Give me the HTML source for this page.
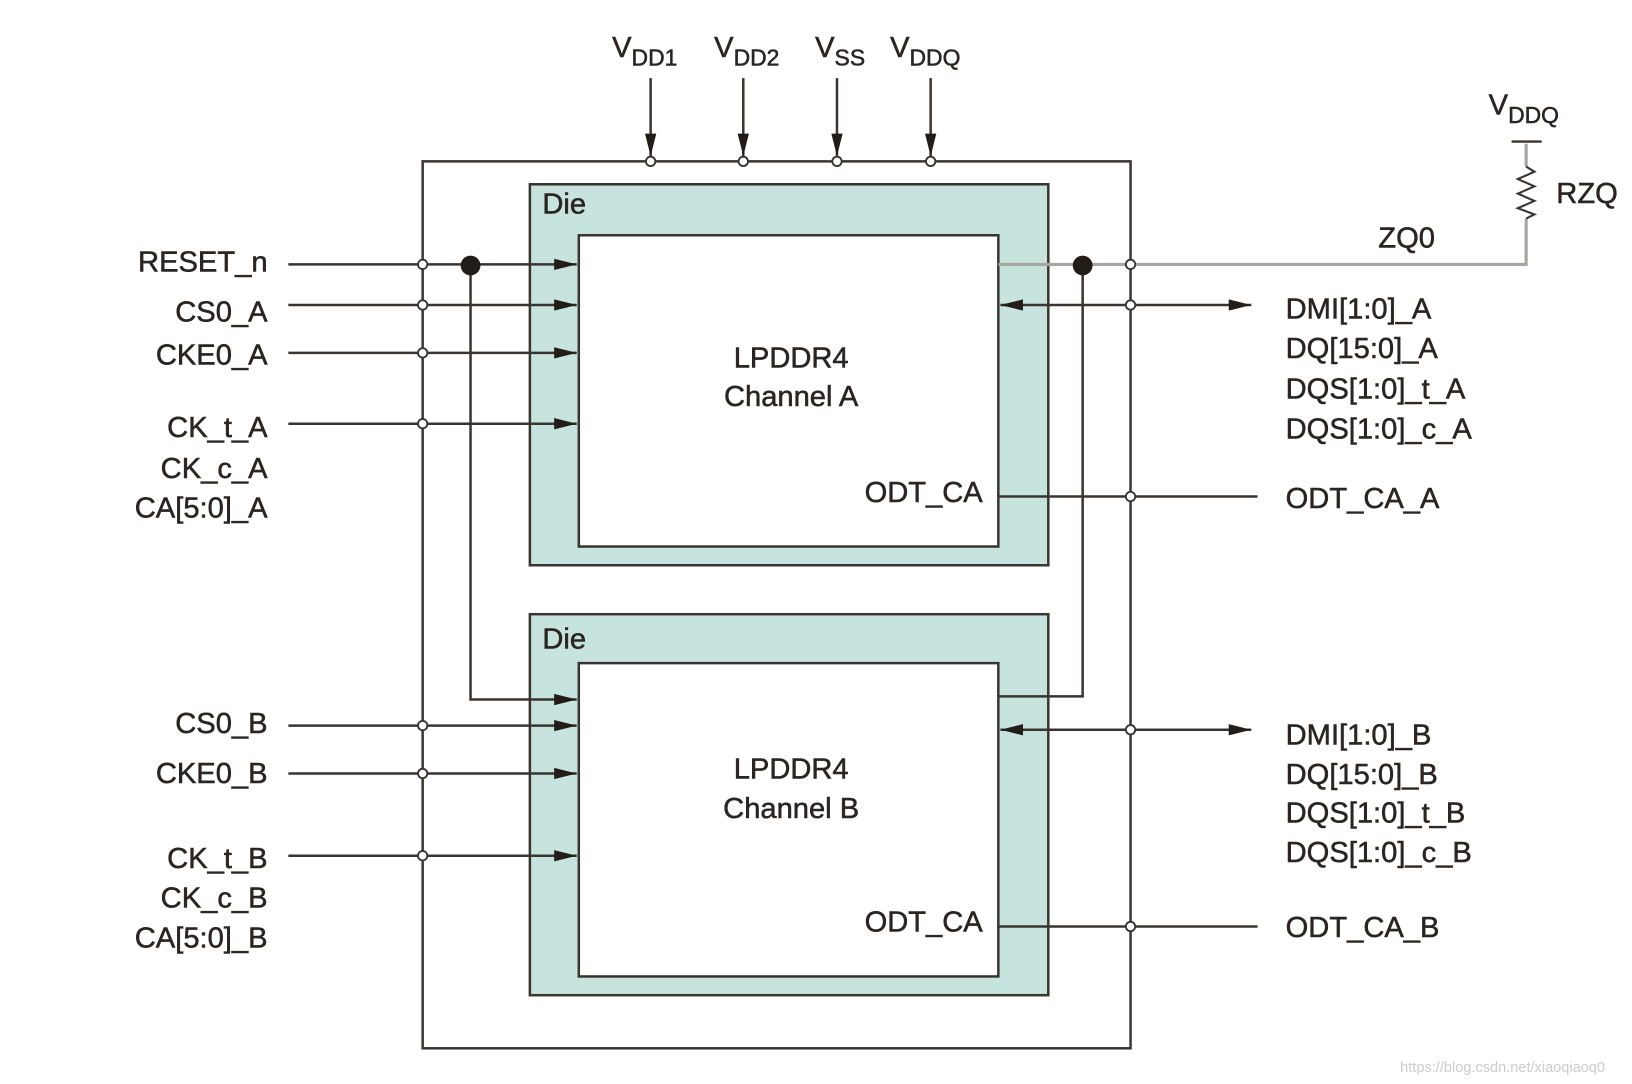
<!DOCTYPE html>
<html><head><meta charset="utf-8"><style>
html,body{margin:0;padding:0;background:#fff;}
svg{display:block;}
text{font-family:"Liberation Sans",sans-serif;fill:#2a2522;stroke:#2a2522;stroke-width:0.5;}
</style></head><body>
<svg width="1632" height="1084" viewBox="0 0 1567.7 1041.3" preserveAspectRatio="none" xmlns="http://www.w3.org/2000/svg">
<defs>
<marker id="b" viewBox="0 0 20 12" refX="20" refY="6" markerWidth="22" markerHeight="13" markerUnits="userSpaceOnUse" orient="auto-start-reverse"><path d="M0,1 L20,6 L0,11 z" fill="#231d19"/></marker>
</defs>
<g stroke="#3a3430" stroke-width="2.4" fill="none">
<rect x="406" y="155" width="680" height="852"/>
<rect x="509" y="177" width="498" height="366" fill="#c6e3dd"/>
<rect x="556" y="226" width="403" height="299" fill="#fff"/>
<rect x="509" y="590" width="498" height="366" fill="#c6e3dd"/>
<rect x="556" y="637" width="403" height="301" fill="#fff"/>
<line x1="625" y1="75" x2="625" y2="150" marker-end="url(#b)"/>
<line x1="714" y1="75" x2="714" y2="150" marker-end="url(#b)"/>
<line x1="804" y1="75" x2="804" y2="150" marker-end="url(#b)"/>
<line x1="894" y1="75" x2="894" y2="150" marker-end="url(#b)"/>
<line x1="277" y1="254" x2="554" y2="254" marker-end="url(#b)"/>
<line x1="277" y1="293" x2="554" y2="293" marker-end="url(#b)"/>
<line x1="277" y1="339" x2="554" y2="339" marker-end="url(#b)"/>
<line x1="277" y1="407" x2="554" y2="407" marker-end="url(#b)"/>
<polyline points="452,254 452,672 554,672" marker-end="url(#b)"/>
<line x1="277" y1="697" x2="554" y2="697" marker-end="url(#b)"/>
<line x1="277" y1="743" x2="554" y2="743" marker-end="url(#b)"/>
<line x1="277" y1="822" x2="554" y2="822" marker-end="url(#b)"/>
<polyline points="1040,254 1040,669 959,669"/>
<line x1="961" y1="293" x2="1202" y2="293" marker-start="url(#b)" marker-end="url(#b)"/>
<line x1="959" y1="477" x2="1208" y2="477"/>
<line x1="961" y1="701" x2="1202" y2="701" marker-start="url(#b)" marker-end="url(#b)"/>
<line x1="959" y1="890" x2="1208" y2="890"/>
</g>
<g stroke="#a9a6a2" stroke-width="3" fill="none">
<polyline points="959,254 1466,254 1466,210"/>
<polyline points="1466,160 1466,138"/>
<polyline points="1466,160 1474,165 1458,172 1474,179 1458,186 1474,193 1458,200 1474,206 1466,210" stroke="#3a3430" stroke-width="2"/>
<line x1="1452" y1="136" x2="1481" y2="136" stroke="#3a3430" stroke-width="2.2"/>
</g>
<g fill="#231d19">
<circle cx="452" cy="255" r="9.5"/>
<circle cx="1040" cy="255" r="9.5"/>
</g>
<g fill="#fff" stroke="#3a3430" stroke-width="1.8">
<circle cx="625" cy="155" r="4.5"/><circle cx="714" cy="155" r="4.5"/><circle cx="804" cy="155" r="4.5"/><circle cx="894" cy="155" r="4.5"/>
<circle cx="406" cy="254" r="4.5"/><circle cx="406" cy="293" r="4.5"/><circle cx="406" cy="339" r="4.5"/><circle cx="406" cy="407" r="4.5"/>
<circle cx="406" cy="697" r="4.5"/><circle cx="406" cy="743" r="4.5"/><circle cx="406" cy="822" r="4.5"/>
<circle cx="1086" cy="254" r="4.5"/><circle cx="1086" cy="293" r="4.5"/><circle cx="1086" cy="477" r="4.5"/><circle cx="1086" cy="701" r="4.5"/><circle cx="1086" cy="890" r="4.5"/>
</g>
<g font-size="28">
<text x="588" y="55">V<tspan font-size="22" dy="8">DD1</tspan></text>
<text x="686" y="55">V<tspan font-size="22" dy="8">DD2</tspan></text>
<text x="783" y="55">V<tspan font-size="22" dy="8">SS</tspan></text>
<text x="855" y="55">V<tspan font-size="22" dy="8">DDQ</tspan></text>
<text x="1430" y="110">V<tspan font-size="22" dy="8">DDQ</tspan></text>
<text x="1495" y="195">RZQ</text>
<text x="1324" y="238">ZQ0</text>
<text x="521" y="205">Die</text>
<text x="521" y="623">Die</text>
<g text-anchor="middle"><text x="760" y="353">LPDDR4</text><text x="760" y="390">Channel A</text>
<text x="760" y="748">LPDDR4</text><text x="760" y="786">Channel B</text></g>
<g text-anchor="end"><text x="944" y="482">ODT_CA</text><text x="944" y="895">ODT_CA</text>
<text x="257" y="261">RESET_n</text><text x="257" y="309">CS0_A</text><text x="257" y="350">CKE0_A</text>
<text x="257" y="420">CK_t_A</text><text x="257" y="459">CK_c_A</text><text x="257" y="497">CA[5:0]_A</text>
<text x="257" y="704">CS0_B</text><text x="257" y="752">CKE0_B</text>
<text x="257" y="834">CK_t_B</text><text x="257" y="872">CK_c_B</text><text x="257" y="910">CA[5:0]_B</text></g>
<text x="1235" y="306">DMI[1:0]_A</text><text x="1235" y="344">DQ[15:0]_A</text><text x="1235" y="383">DQS[1:0]_t_A</text><text x="1235" y="421">DQS[1:0]_c_A</text><text x="1235" y="488">ODT_CA_A</text>
<text x="1235" y="715">DMI[1:0]_B</text><text x="1235" y="753">DQ[15:0]_B</text><text x="1235" y="790">DQS[1:0]_t_B</text><text x="1235" y="828">DQS[1:0]_c_B</text><text x="1235" y="900">ODT_CA_B</text>
</g>
<text x="1345" y="1030" font-size="14" style="fill:#ccc;stroke:none">https://blog.csdn.net/xiaoqiaoq0</text>
</svg>
</body></html>
